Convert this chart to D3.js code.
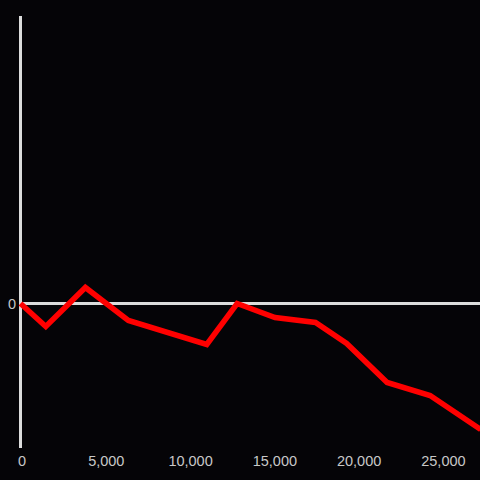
<!DOCTYPE html>
<html>
<head>
<meta charset="utf-8">
<script src="https://cdn.jsdelivr.net/npm/d3@7"></script>
<style>
  html, body { margin: 0; padding: 0; background: #050407; }
  svg { display: block; }
</style>
</head>
<body>
<svg id="chart" width="480" height="480"></svg>
<script>
const xValues = [0, 1500, 3850, 6400, 11050, 12850, 15100, 17500, 19350, 21750, 24300, 27300];
const yValues = [0, -23, 16, -17, -41, 0, -14, -19, -40, -79, -92, -126];
const xTicks = [0, 5000, 10000, 15000, 20000, 25000];
const yTicks = [0];

const W = 480, H = 480;
const svg = d3.select("#chart");
svg.append("rect").attr("width", W).attr("height", H).attr("fill", "#050407");

const x = d3.scaleLinear().domain([0, 27260]).range([20.5, 480]);
const y = d3.scaleLinear().domain([-144.5, 287.5]).range([448, 16]);

const data = xValues.map((v, i) => ({ x: v, y: yValues[i] }));

// y axis line
svg.append("line")
  .attr("x1", x(0)).attr("x2", x(0))
  .attr("y1", y.range()[1]).attr("y2", y.range()[0])
  .attr("stroke", "#dcdcdc").attr("stroke-width", 3);

// zero line
svg.append("line")
  .attr("x1", x(0)).attr("x2", W)
  .attr("y1", y(0)).attr("y2", y(0))
  .attr("stroke", "#dcdcdc").attr("stroke-width", 3);

// y tick labels
svg.selectAll("text.ytick").data(yTicks).enter().append("text")
  .attr("class", "ytick")
  .attr("x", 16).attr("y", d => y(d))
  .attr("dy", "0.35em")
  .attr("text-anchor", "end")
  .attr("fill", "#c8c8c8")
  .attr("font-family", "Liberation Sans, Arial, sans-serif")
  .attr("font-size", "14.5px")
  .text(d => d3.format(",")(d));

// x tick labels
svg.selectAll("text.xtick").data(xTicks).enter().append("text")
  .attr("class", "xtick")
  .attr("x", d => x(d) + 1.5).attr("y", 461)
  .attr("dy", "0.35em")
  .attr("text-anchor", "middle")
  .attr("fill", "#c8c8c8")
  .attr("font-family", "Liberation Sans, Arial, sans-serif")
  .attr("font-size", "14.5px")
  .text(d => d3.format(",")(d));

// line
const line = d3.line().x(d => x(d.x)).y(d => y(d.y));
svg.append("path")
  .datum(data)
  .attr("d", line)
  .attr("fill", "none")
  .attr("stroke", "#ff0000")
  .attr("stroke-width", 5.5)
  .attr("stroke-linejoin", "miter");
</script>
</body>
</html>
